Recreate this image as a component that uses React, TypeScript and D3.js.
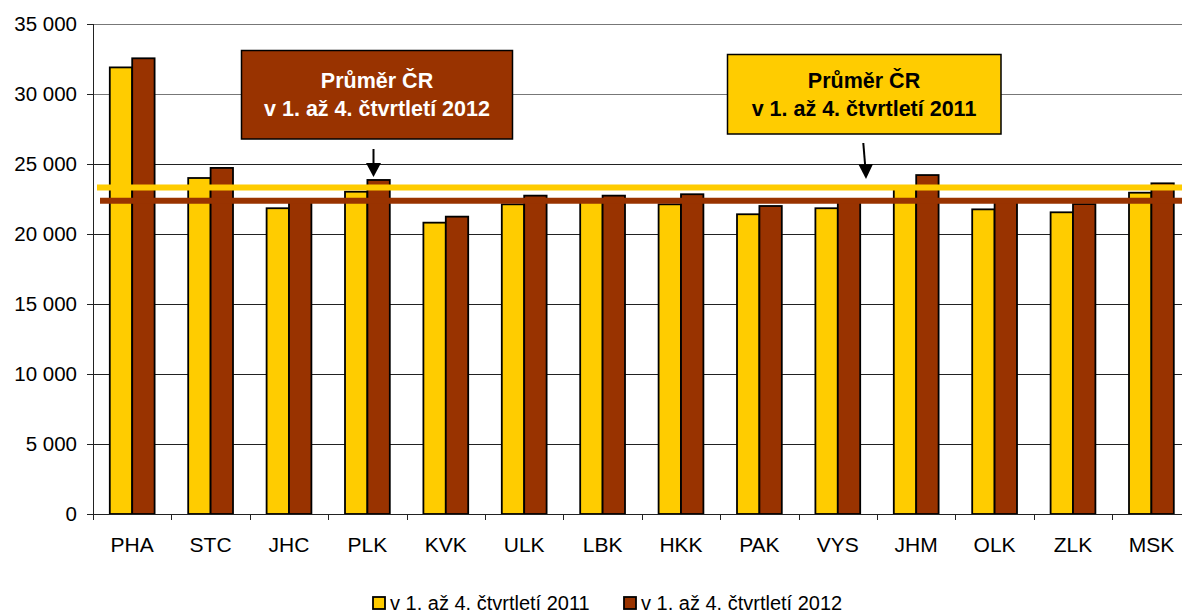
import React from "react";
import * as d3 from "d3";

const categories = ["PHA","STC","JHC","PLK","KVK","ULK","LBK","HKK","PAK","VYS","JHM","OLK","ZLK","MSK"];
const values2011 = [31900,24000,21840,23020,20810,22120,22450,22120,21410,21840,23400,21760,21550,22950];
const values2012 = [32550,24720,22350,23860,21240,22740,22740,22840,22000,22350,24210,22350,22140,23620];
const avg2011 = 23320;
const avg2012 = 22370;
const yTicks = [0,5000,10000,15000,20000,25000,30000,35000];
const seriesNames = ["v 1. až 4. čtvrtletí 2011","v 1. až 4. čtvrtletí 2012"];
const boxLines2012 = ["Průměr ČR","v 1. až 4. čtvrtletí 2012"];
const boxLines2011 = ["Průměr ČR","v 1. až 4. čtvrtletí 2011"];

const W = 1182, H = 612;
const left = 93, right = 1190.6, top = 24, bottom = 514;
const YEL = "#FFCC00", BRN = "#993300";
const FONT = "'Liberation Sans', Arial, sans-serif";

export default function App() {
  const x = d3.scaleBand<string>().domain(categories).range([left, right]).padding(0);
  const y = d3.scaleLinear().domain([0, 35000]).range([bottom, top]);
  const step = x.bandwidth();
  const bw = step / 3.5;
  const gapHalf = (step - 2 * bw) / 2;
  const fmt = (v: number) => d3.format(",")(v).replace(/,/g, " ");

  return (
    <svg width={W} height={H} style={{ position: "absolute", left: 0, top: 0, background: "#fff" }} fontFamily={FONT}>
      {/* gridlines */}
      {yTicks.filter(t => t > 0).map(t => (
        <line key={t} x1={left} x2={W} y1={Math.round(y(t)) + 0.5} y2={Math.round(y(t)) + 0.5} stroke={t === 35000 || t === 30000 ? "#777" : "#222"} strokeWidth={1} />
      ))}
      {/* y axis */}
      <line x1={left + 0.5} x2={left + 0.5} y1={top} y2={bottom} stroke="#222" />
      {yTicks.map(t => (
        <g key={t}>
          <line x1={left - 6} x2={left} y1={Math.round(y(t)) + 0.5} y2={Math.round(y(t)) + 0.5} stroke="#222" />
          <text x={77} y={y(t) + 7} textAnchor="end" fontSize={20.5} fill="#000">{fmt(t)}</text>
        </g>
      ))}
      {/* bars */}
      {categories.map((c, i) => {
        const x0 = (x(c) as number) + gapHalf;
        return (
          <g key={c}>
            <rect x={x0} y={y(values2011[i])} width={bw} height={bottom - y(values2011[i])} fill={YEL} stroke="#000" strokeWidth={1.8} />
            <rect x={x0 + bw} y={y(values2012[i])} width={bw} height={bottom - y(values2012[i])} fill={BRN} stroke="#000" strokeWidth={1.8} />
          </g>
        );
      })}
      {/* x axis */}
      <line x1={left} x2={W} y1={bottom + 0.5} y2={bottom + 0.5} stroke="#222" />
      {categories.map((c, i) => (
        <g key={c}>
          <line x1={Math.round(x(c) as number) + 0.5} x2={Math.round(x(c) as number) + 0.5} y1={bottom} y2={bottom + 6} stroke="#222" />
          <text x={(x(c) as number) + step / 2} y={552} textAnchor="middle" fontSize={21} fill="#000">{c}</text>
        </g>
      ))}
      {/* average lines */}
      <line x1={97} x2={W} y1={y(avg2011)} y2={y(avg2011)} stroke={YEL} strokeWidth={6} />
      <line x1={100} x2={W} y1={y(avg2012)} y2={y(avg2012)} stroke={BRN} strokeWidth={6} />
      {/* annotation 2012 */}
      <rect x={241.5} y={50.5} width={271} height={88.5} fill={BRN} stroke="#000" strokeWidth={1.5} />
      {boxLines2012.map((t, i) => (
        <text key={i} x={377} y={88 + i * 27.5} textAnchor="middle" fontSize={21.5} fontWeight="bold" fill="#fff">{t}</text>
      ))}
      <line x1={373.5} x2={373.5} y1={149} y2={165} stroke="#000" strokeWidth={2} />
      <path d="M366,163 L381,163 L373.5,177 Z" fill="#000" />
      {/* annotation 2011 */}
      <rect x={727.5} y={54.5} width={273.5} height={79.5} fill={YEL} stroke="#000" strokeWidth={1.5} />
      {boxLines2011.map((t, i) => (
        <text key={i} x={864} y={88 + i * 27.5} textAnchor="middle" fontSize={21.5} fontWeight="bold" fill="#000">{t}</text>
      ))}
      <line x1={863.3} x2={865.2} y1={143} y2={166} stroke="#000" strokeWidth={2} />
      <path d="M858.5,164.5 L873,164 L866,179 Z" fill="#000" />
      {/* legend */}
      <rect x={373} y={597} width={12} height={12} fill={YEL} stroke="#000" strokeWidth={1.8} />
      <text x={390} y={609.5} fontSize={20} fill="#000">{seriesNames[0]}</text>
      <rect x={624} y={597} width={12} height={12} fill={BRN} stroke="#000" strokeWidth={1.8} />
      <text x={641} y={609.5} fontSize={20} fill="#000">{seriesNames[1]}</text>
    </svg>
  );
}
